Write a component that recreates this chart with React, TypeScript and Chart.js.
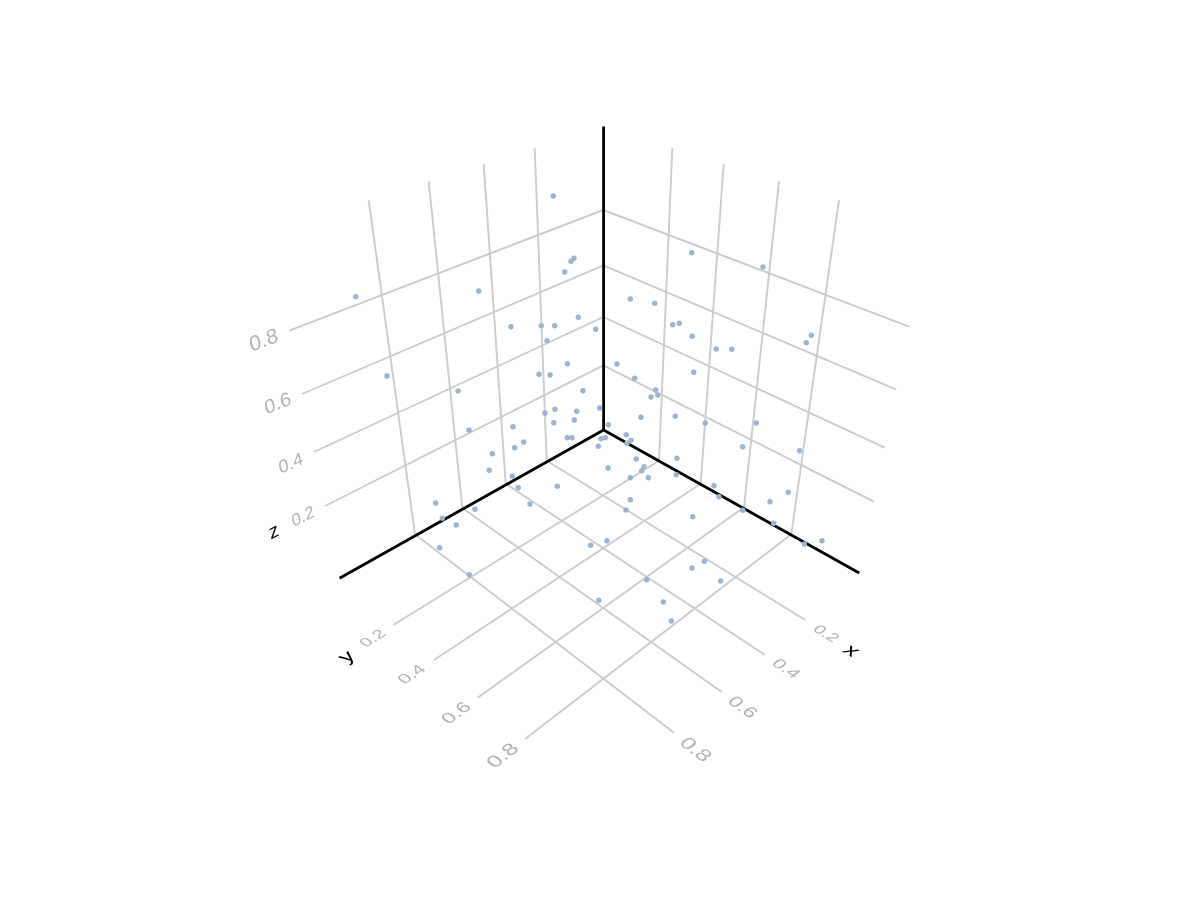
import React, { useEffect, useRef } from "react";
import { Chart, registerables } from "chart.js";

Chart.register(...registerables);

// Values are in the projected plane of the 3D view (the picture's own units).
const pointsX = [553.3,574,571,564.7,355.7,478.7,511,541.3,554.7,578.3,595.7,547,567.3,539,550,387,458,583,691.7,763,630.3,654.7,672.7,679.3,692.3,716.3,731.7,811.3,806.3,617,634.7,693.7,655.7,657.7,651,599.7,545,555,576.7,553.7,574.3,608.3,513,469,567.3,572,601,605.3,523.7,514.7,598.3,492.3,489.3,608,512.3,518.3,557.3,530,435.7,475,442.3,456.3,439.7,469.3,590.7,607,641,675.3,705.3,756.3,626.3,631,627,742.7,799.7,636.3,677,644,641.7,630.3,648.3,676.3,714,719,788.3,770,630.3,626,692.7,742.7,773.7,804.3,822,704.3,692,720.7,646.7,663.3,671.3,598.7];
const pointsY = [196,258.3,261.3,272,296.7,291,326.7,325.7,325.7,317.3,329.3,340.7,363.7,374.3,375,376,391,390.7,252.7,267,299,303.3,324.7,323.3,336.3,349,349.3,335.3,342.7,364,378.3,372.3,390,395,397,408,413,409.3,411.3,422.7,420,424.7,426.7,430,437.7,437.7,438.7,437.7,442,447.7,446.3,453.7,470.3,468,476.3,487.7,486.3,504,503,509.3,518.3,525,547.7,574.7,545.3,540.7,417.3,416.3,423,423,434.7,440.3,443.3,446.7,450.7,459,458.3,466.7,470.7,477.7,477.7,474.7,485.7,496.7,492.3,501.7,499.7,510,516.7,510.3,523.3,544,540.7,561.3,568,581,579.7,602,621,600.3];

const originPt = [603.6, 430];
const axisEndX = [859.2, 573];
const axisEndY = [339.5, 578.3];
const axisEndZ = [603.6, 126.5];

// Grid segments: [x0, y0, x1, y1]
const leftWallVerticals = [
  [534.7,148.3,546.7,460.7],[483.7,164,505.7,483.7],[428.7,181.7,462.3,508],[368.7,200.3,415,534.3],
];
const rightWallVerticals = [
  [672.3,148.3,659,460.7],[723.7,164,700.7,483.7],[779,181.3,744,507.3],[839,200.3,791.3,534.3],
];
const leftWallLevels = [
  [603.3,365.3,325,506],[603.3,317,314,452],[603.3,265.3,302,394],[603.3,210,289.3,330.7],
];
const rightWallLevels = [
  [603.3,365.3,874,501.7],[603.3,317,884.7,447.7],[603.3,265.3,896,389.3],[603.3,210,909,326.7],
];
const floorAlongY = [
  [659,460.7,393.3,625],[700.7,483.7,434,660],[744,507.3,477.7,697.7],[791.3,534.3,525,739],
];
const floorAlongX = [
  [546.7,460.7,805.3,620],[505.7,483.7,764.7,654.7],[462.3,508,721.7,692],[415,534.3,674,732.7],
];

const tickLabels = ["0.2", "0.4", "0.6", "0.8"];
const zTickPos = [[303,517],[291,464],[278,404],[264,341]];
const yTickPos = [[373,638.7],[412.3,674.7],[456.7,713.3],[503.3,756]];
const xTickPos = [[825.7,634],[785.7,669],[742.3,707.7],[695,750]];

const rad = (d: number) => (d * Math.PI) / 180;

function warpedText(
  ctx: CanvasRenderingContext2D,
  text: string,
  color: string,
  size: number,
  px: number,
  py: number,
  angle: number,
  sx: number,
  downX: number,
  downY: number,
) {
  ctx.save();
  ctx.setTransform(
    Math.cos(rad(angle)) * sx,
    Math.sin(rad(angle)) * sx,
    downX,
    downY,
    px,
    py,
  );
  ctx.font = `${size}px "Liberation Sans"`;
  ctx.fillStyle = color;
  ctx.textAlign = "center";
  ctx.textBaseline = "middle";
  ctx.fillText(text, 0, 0);
  ctx.restore();
}

const labelsPlugin = {
  id: "labels3d",
  afterDraw(chart: Chart) {
    const ctx = chart.ctx;
    const sX = chart.scales.x;
    const sY = chart.scales.y;
    const place = (p: number[]) => [sX.getPixelForValue(p[0]), sY.getPixelForValue(p[1])];
    const tickColor = "#b2b2b2";
    const zAngles = [-26, -24, -22, -20];
    const zSizes = [17.5, 18.5, 20, 21.5];
    const floorAngles = [31.7, 33.5, 35.6, 37.6];
    const floorSizes = [18, 19.5, 21, 23];
    tickLabels.forEach((t, i) => {
      const [zx, zy] = place(zTickPos[i]);
      warpedText(ctx, t, tickColor, zSizes[i], zx, zy, zAngles[i], 1, 0.22, 0.95);
      const [yx, yy] = place(yTickPos[i]);
      warpedText(ctx, t, tickColor, floorSizes[i], yx, yy, -floorAngles[i], 1, 0.66, 0.5);
      const [xx, xy] = place(xTickPos[i]);
      warpedText(ctx, t, tickColor, floorSizes[i], xx, xy, floorAngles[i], 1, -0.66, 0.5);
    });
    const [lzx, lzy] = place([274, 532]);
    warpedText(ctx, "z", "#000", 20, lzx, lzy, -27, 1, 0.22, 0.95);
    const [lyx, lyy] = place([347, 657]);
    warpedText(ctx, "y", "#000", 24, lyx, lyy, -31, 1, 0.66, 0.5);
    const [lxx, lxy] = place([851, 651]);
    warpedText(ctx, "x", "#000", 24, lxx, lxy, 31, 1, -0.66, 0.5);
  },
};

const segmentDataset = (s: number[], color: string, width: number, order: number) => ({
  type: "scatter" as const,
  data: [
    { x: s[0], y: s[1] },
    { x: s[2], y: s[3] },
  ],
  showLine: true,
  borderColor: color,
  borderWidth: width,
  pointRadius: 0,
  order,
});

export default function App() {
  const ref = useRef<HTMLCanvasElement | null>(null);
  useEffect(() => {
    if (!ref.current) return;
    const gridSegments = [
      ...leftWallVerticals,
      ...rightWallVerticals,
      ...leftWallLevels,
      ...rightWallLevels,
      ...floorAlongY,
      ...floorAlongX,
    ];
    const axisSegments = [axisEndX, axisEndY, axisEndZ].map((e) => [originPt[0], originPt[1], e[0], e[1]]);
    const chart = new Chart(ref.current, {
      type: "scatter",
      data: {
        datasets: [
          {
            data: pointsX.map((x, i) => ({ x, y: pointsY[i] })),
            backgroundColor: "#9db4cf",
            borderWidth: 0,
            pointRadius: 2.7,
            order: 0,
          },
          ...axisSegments.map((s) => segmentDataset(s, "#000000", 2.8, 1)),
          ...gridSegments.map((s) => segmentDataset(s, "#cccccc", 1.9, 2)),
        ] as any,
      },
      options: {
        animation: false,
        responsive: false,
        devicePixelRatio: 1,
        layout: { padding: 0, autoPadding: false },
        clip: false,
        plugins: { legend: { display: false }, tooltip: { enabled: false } },
        scales: {
          x: { type: "linear", min: 0, max: 1200, display: false },
          y: { type: "linear", min: 0, max: 900, reverse: true, display: false },
        },
      } as any,
      plugins: [labelsPlugin],
    });
    return () => chart.destroy();
  }, []);
  return (
    <canvas
      ref={ref}
      width={1200}
      height={900}
      style={{ position: "absolute", left: 0, top: 0, display: "block", background: "#fff" }}
    />
  );
}
